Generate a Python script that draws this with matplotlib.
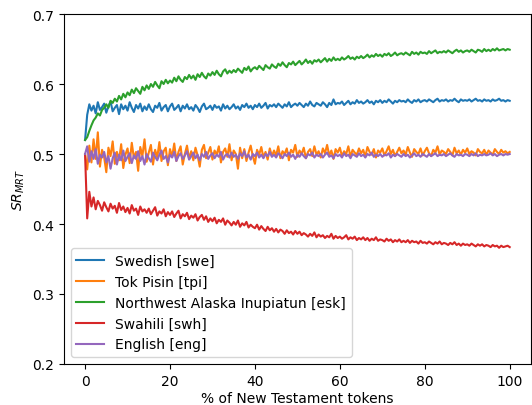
#!/usr/bin/env python3
"""SR_MRT vs. share of New Testament tokens, five languages."""
import matplotlib
matplotlib.use("Agg")
import matplotlib.pyplot as plt
import numpy as np

pct = np.arange(0, 100.5, 0.5)

swe = [
    520, 556, 571, 562, 569, 558, 574, 563, 567, 572,
    559, 568, 575, 561, 566, 570, 557, 571, 564, 569,
    562, 574, 566, 560, 570, 565, 572, 561, 568, 563,
    571, 564, 560, 569, 566, 573, 562, 567, 570, 561,
    568, 572, 563, 566, 570, 561, 569, 565, 571, 564,
    567, 562, 570, 566, 560, 568, 572, 564, 566, 569,
    563, 570, 566, 568, 562, 571, 565, 569, 564, 567,
    571, 565, 568, 563, 570, 567, 572, 566, 569, 564,
    570, 567, 572, 566, 569, 573, 565, 570, 568, 571,
    567, 572, 569, 566, 571, 568, 574, 567, 570, 572,
    569, 573, 570, 567, 572, 569, 575, 570, 568, 573,
    571, 569, 574, 571, 567, 573, 570, 578, 571, 573,
    572, 575, 570, 573, 576, 571, 574, 572, 577, 573,
    575, 572, 574, 577, 573, 575, 571, 576, 574, 577,
    573, 576, 574, 578, 575, 572, 576, 574, 577, 575,
    576, 574, 578, 575, 573, 577, 575, 578, 574, 576,
    577, 575, 578, 576, 574, 577, 579, 575, 577, 576,
    578, 575, 577, 576, 579, 576, 574, 578, 576, 577,
    576, 578, 575, 577, 579, 576, 577, 575, 578, 576,
    577, 575, 578, 576, 577, 579, 576, 577, 575, 577,
    576,
]

tpi = [
    500, 478, 512, 488, 521, 493, 531, 482, 506, 495,
    474, 509, 497, 518, 486, 503, 491, 514, 480, 499,
    508, 487, 516, 494, 503, 476, 510, 497, 521, 489,
    502, 513, 485, 506, 495, 517, 490, 504, 509, 484,
    507, 496, 515, 490, 503, 511, 485, 500, 512, 493,
    504, 491, 509, 498, 482, 506, 513, 494, 502, 510,
    492, 505, 499, 511, 488, 503, 508, 496, 514, 491,
    505, 500, 479, 509, 494, 507, 490, 502, 512, 497,
    486, 506, 499, 510, 495, 503, 492, 508, 497, 505,
    498, 511, 494, 504, 500, 508, 491, 506, 502, 513,
    496, 505, 500, 509, 494, 503, 507, 497, 511, 499,
    504, 495, 508, 501, 513, 498, 505, 493, 507, 502,
    509, 497, 504, 500, 511, 496, 506, 502, 499, 508,
    501, 506, 496, 510, 503, 499, 507, 495, 505, 502,
    508, 498, 504, 511, 500, 506, 497, 503, 509, 501,
    505, 499, 510, 502, 496, 507, 503, 500, 508, 498,
    504, 509, 501, 497, 506, 502, 511, 499, 505, 503,
    500, 507, 503, 498, 509, 501, 505, 499, 506, 502,
    508, 500, 504, 502, 498, 507, 503, 501, 506, 499,
    505, 502, 499, 507, 503, 500, 506, 502, 504, 501,
    503,
]

esk = [
    520, 524, 533, 541, 548, 552, 558, 555, 563, 566,
    571, 566, 576, 573, 579, 575, 583, 578, 586, 581,
    588, 584, 592, 587, 594, 590, 586, 596, 591, 598,
    593, 600, 596, 603, 598, 594, 604, 600, 606, 601,
    605, 602, 609, 604, 611, 606, 603, 610, 607, 613,
    608, 612, 606, 614, 610, 616, 611, 608, 615, 612,
    617, 613, 619, 614, 611, 618, 621, 615, 619, 616,
    620, 617, 622, 619, 616, 623, 620, 625, 618, 622,
    624, 621, 626, 623, 620, 627, 624, 622, 628, 625,
    623, 629, 626, 631, 627, 624, 630, 628, 632, 627,
    630, 633, 628, 631, 635, 630, 633, 629, 634, 632,
    635, 631, 634, 637, 632, 636, 633, 638, 634, 636,
    634, 638, 635, 637, 640, 636, 638, 635, 639, 637,
    640, 637, 639, 642, 638, 641, 639, 643, 640, 642,
    639, 643, 641, 644, 640, 642, 645, 641, 643, 644,
    642, 645, 643, 641, 646, 643, 645, 642, 646, 644,
    645, 643, 647, 644, 646, 648, 644, 646, 645, 647,
    645, 648, 646, 644, 647, 649, 646, 648, 645, 647,
    648, 646, 649, 647, 645, 649, 648, 646, 650, 647,
    649, 647, 650, 648, 651, 648, 649, 650, 648, 650,
    649,
]

swh = [
    500, 408, 446, 425, 438, 421, 433, 427, 419, 431,
    424, 418, 429, 422, 426, 416, 430, 420, 425, 417,
    423, 415, 427, 419, 422, 413, 425, 418, 421, 416,
    422, 414, 419, 424, 412, 418, 415, 421, 411, 417,
    413, 418, 410, 415, 419, 408, 414, 411, 416, 407,
    412, 409, 414, 405, 410, 413, 406, 411, 403, 408,
    404, 409, 401, 406, 403, 408, 399, 405, 402, 398,
    403, 399, 405, 396, 401, 398, 403, 395, 399, 396,
    394, 399, 392, 397, 393, 390, 396, 391, 394, 389,
    393, 388, 392, 390, 386, 391, 387, 389, 385, 390,
    386, 389, 384, 387, 385, 382, 386, 383, 388, 381,
    385, 382, 384, 380, 383, 381, 386, 379, 383, 380,
    382, 379, 381, 384, 378, 381, 379, 382, 377, 380,
    378, 381, 377, 380, 376, 379, 377, 381, 376, 378,
    377, 375, 379, 376, 378, 374, 377, 375, 378, 374,
    376, 374, 377, 373, 376, 374, 375, 372, 376, 373,
    374, 372, 375, 373, 371, 374, 372, 375, 371, 373,
    372, 370, 373, 371, 374, 370, 372, 369, 372, 370,
    371, 369, 372, 370, 368, 371, 369, 371, 368, 370,
    369, 367, 370, 368, 369, 366, 369, 367, 368, 369,
    367,
]

eng = [
    500, 511, 489, 504, 493, 507, 486, 499, 495, 503,
    488, 497, 479, 494, 502, 485, 499, 491, 505, 490,
    496, 501, 487, 498, 493, 504, 490, 497, 485, 500,
    494, 489, 502, 496, 491, 499, 505, 493, 497, 488,
    499, 495, 503, 490, 497, 501, 493, 498, 504, 492,
    497, 502, 494, 499, 491, 500, 496, 503, 493, 498,
    501, 494, 499, 496, 503, 492, 498, 500, 495, 502,
    496, 499, 493, 501, 497, 504, 495, 499, 492, 500,
    497, 502, 495, 499, 494, 500, 497, 503, 496, 499,
    495, 501, 498, 494, 500, 497, 502, 496, 499, 493,
    499, 496, 501, 497, 494, 500, 498, 502, 495, 499,
    497, 500, 495, 499, 502, 496, 498, 494, 500, 497,
    499, 495, 501, 497, 499, 494, 500, 498, 496, 501,
    497, 499, 495, 500, 498, 502, 496, 499, 497, 500,
    496, 499, 498, 501, 495, 499, 497, 500, 498, 496,
    500, 497, 499, 495, 498, 501, 497, 499, 496, 500,
    498, 496, 500, 497, 499, 501, 497, 499, 498, 500,
    497, 499, 501, 498, 496, 500, 498, 499, 497, 500,
    499, 497, 500, 498, 501, 497, 499, 498, 500, 498,
    499, 501, 498, 500, 497, 499, 500, 498, 500, 499,
    500,
]

labels = [
    "Swedish [swe]",
    "Tok Pisin [tpi]",
    "Northwest Alaska Inupiatun [esk]",
    "Swahili [swh]",
    "English [eng]",
]
series = [swe, tpi, esk, swh, eng]
colors = ["#1f77b4", "#ff7f0e", "#2ca02c", "#d62728", "#9467bd"]

fig, ax = plt.subplots(figsize=(5.32, 4.06), dpi=100)
fig.subplots_adjust(left=0.12, right=0.998, bottom=0.101, top=0.963)

for vals, lab, col in zip(series, labels, colors):
    ax.plot(pct, np.array(vals) / 1000.0, color=col, lw=1.5, label=lab)

ax.set_ylim(0.2, 0.7)
ax.set_xticks([0, 20, 40, 60, 80, 100])
ax.set_xlabel("% of New Testament tokens", labelpad=2.5)
ax.set_ylabel("$SR_{MRT}$")
ax.legend(loc="lower left")

fig.savefig("out.png")
plt.close(fig)
